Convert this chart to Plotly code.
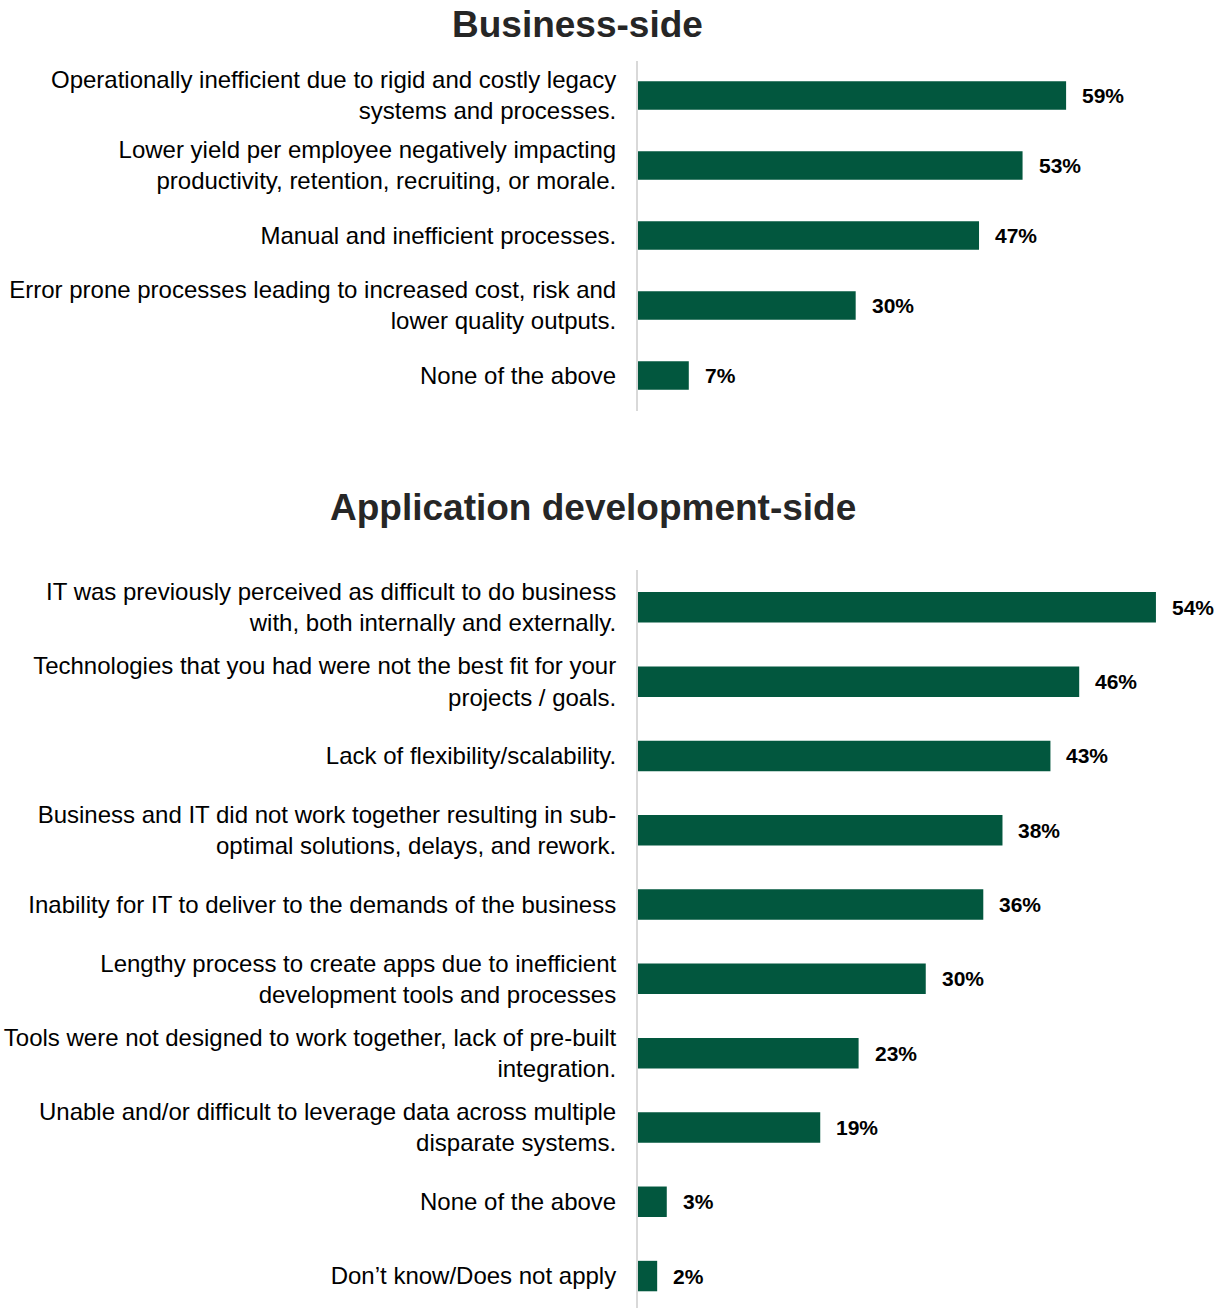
import plotly.graph_objects as go

# Business-side survey responses
business_labels = [
    "Operationally inefficient due to rigid and costly legacy<br>systems and processes.",
    "Lower yield per employee negatively impacting<br>productivity, retention, recruiting, or morale.",
    "Manual and inefficient processes.",
    "Error prone processes leading to increased cost, risk and<br>lower quality outputs.",
    "None of the above",
]
business_values = [59, 53, 47, 30, 7]

# Application development-side survey responses
appdev_labels = [
    "IT was previously perceived as difficult to do business<br>with, both internally and externally.",
    "Technologies that you had were not the best fit for your<br>projects / goals.",
    "Lack of flexibility/scalability.",
    "Business and IT did not work together resulting in sub-<br>optimal solutions, delays, and rework.",
    "Inability for IT to deliver to the demands of the business",
    "Lengthy process to create apps due to inefficient<br>development tools and processes",
    "Tools were not designed to work together, lack of pre-built<br>integration.",
    "Unable and/or difficult to leverage data across multiple<br>disparate systems.",
    "None of the above",
    "Don\u2019t know/Does not apply",
]
appdev_values = [54, 46, 43, 38, 36, 30, 23, 19, 3, 2]

panel_titles = ["Business-side", "Application development-side"]

W, H = 1225, 1308
BAR_COLOR = "#02573E"
AXIS_COLOR = "#D9D9D9"
FONT = "Liberation Sans, Arial, sans-serif"

fig = go.Figure()

fig.add_trace(go.Bar(
    x=business_values, y=business_labels, orientation="h",
    marker=dict(color=BAR_COLOR, line=dict(width=0)),
    xaxis="x", yaxis="y", hoverinfo="skip", showlegend=False,
))
fig.add_trace(go.Bar(
    x=appdev_values, y=appdev_labels, orientation="h",
    marker=dict(color=BAR_COLOR, line=dict(width=0)),
    xaxis="x2", yaxis="y2", hoverinfo="skip", showlegend=False,
))

x_left = 638 / W
top_dom = [1 - 410.5 / H, 1 - 60.5 / H]
bot_dom = [0, 1 - 570.2 / H]

common_y = dict(
    type="category", showline=True, linecolor=AXIS_COLOR, linewidth=2,
    showgrid=False, zeroline=False, ticks="outside", ticklen=15,
    tickcolor="rgba(0,0,0,0)", tickfont=dict(family=FONT, size=24, color="#000000"),
)
common_x = dict(showline=False, showgrid=False, zeroline=False, showticklabels=False,
                domain=[x_left, 1])

fig.update_layout(
    width=W, height=H,
    margin=dict(l=0, r=0, t=0, b=0),
    paper_bgcolor="white", plot_bgcolor="white",
    bargap=0.59,
    font=dict(family=FONT),
    xaxis=dict(**common_x, anchor="y", range=[0, 80.9]),
    yaxis=dict(**common_y, anchor="x", domain=top_dom,
               range=[len(business_labels) - 0.5, -0.5]),
    xaxis2=dict(**common_x, anchor="y2", range=[0, 61.2]),
    yaxis2=dict(**common_y, anchor="x2", domain=bot_dom,
                range=[9.43, -0.5]),
)

annotations = []
# value labels after each bar
for lab, v in zip(business_labels, business_values):
    annotations.append(dict(
        x=v, y=lab, xref="x", yref="y", text=f"<b>{v}%</b>", showarrow=False,
        xanchor="left", yanchor="middle", xshift=14,
        font=dict(family=FONT, size=21, color="#000000"),
    ))
for lab, v in zip(appdev_labels, appdev_values):
    annotations.append(dict(
        x=v, y=lab, xref="x2", yref="y2", text=f"<b>{v}%</b>", showarrow=False,
        xanchor="left", yanchor="middle", xshift=14,
        font=dict(family=FONT, size=21, color="#000000"),
    ))

# panel headings
for title, (cx, cy) in zip(panel_titles, [(577, 24), (593, 507)]):
    annotations.append(dict(
        x=cx / W, y=1 - cy / H, xref="paper", yref="paper", text=f"<b>{title}</b>",
        showarrow=False, xanchor="center", yanchor="middle",
        font=dict(family=FONT, size=37, color="#262626"),
    ))

fig.update_layout(annotations=annotations)

fig.write_html("out.html")
